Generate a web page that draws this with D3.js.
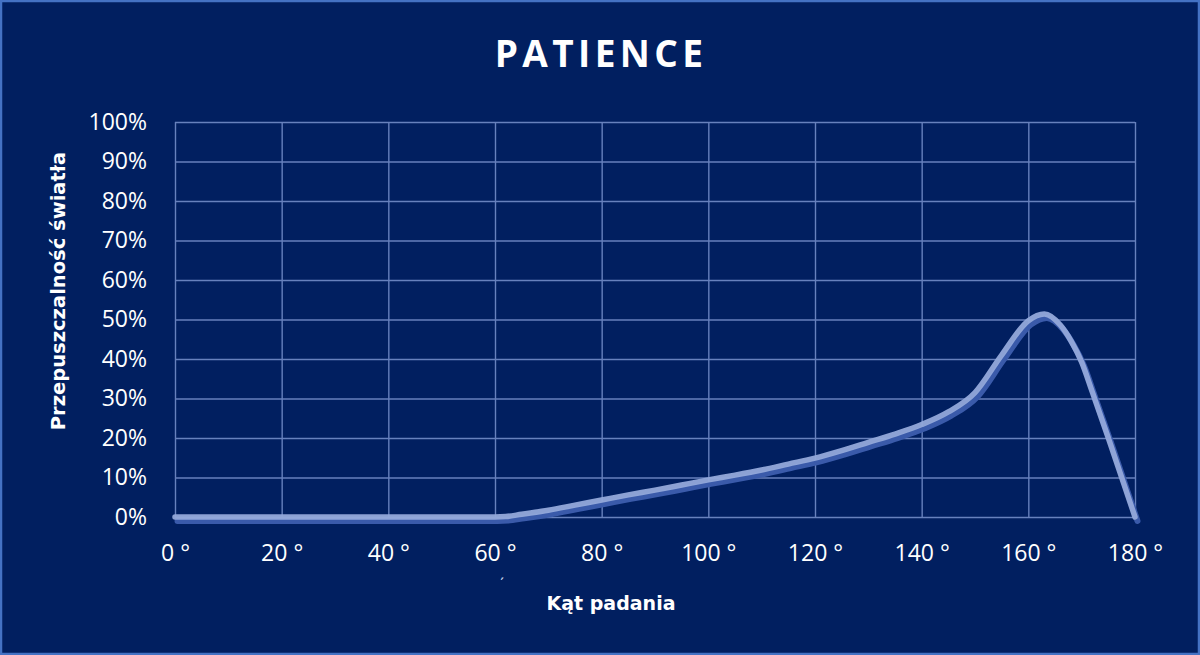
<!DOCTYPE html>
<html>
<head>
<meta charset="utf-8">
<script src="https://cdn.jsdelivr.net/npm/d3@7/dist/d3.min.js"></script>
<style>
  html, body { margin: 0; padding: 0; background: #011f60; }
  svg { display: block; }
</style>
</head>
<body>
<svg id="chart" width="1200" height="655"></svg>
<script>
// ---- data ----
const title = "PATIENCE";
const xTitle = "Kąt padania";
const yTitle = "Przepuszczalność światła";
const angles = [0, 10, 20, 30, 40, 50, 60, 62, 65, 70, 75, 80, 85, 90, 95, 100, 105, 110, 115, 120, 125, 130, 135, 140, 145, 150, 155, 160, 163, 166, 168, 170, 172, 175, 178, 180];
const transmission = [0, 0, 0, 0, 0, 0, 0, 0.1, 0.7, 1.7, 3.0, 4.3, 5.6, 6.8, 8.1, 9.4, 10.6, 11.9, 13.4, 14.9, 16.8, 18.9, 21.0, 23.4, 26.6, 31.5, 41.0, 49.7, 51.4, 48.6, 44.6, 39.2, 31.6, 20.0, 8.0, 0];
const xTicks = [0, 20, 40, 60, 80, 100, 120, 140, 160, 180];
const yTicks = [0, 10, 20, 30, 40, 50, 60, 70, 80, 90, 100];

const svg = d3.select("#chart");
const W = 1200, H = 655;
const plotLeft = 175, plotRight = 1135, plotTop = 122, plotBottom = 517;

svg.append("rect").attr("x", 1).attr("y", 1).attr("width", W - 2).attr("height", H - 2)
  .attr("fill", "#011f60").attr("stroke", "#4472c4").attr("stroke-width", 2.5);

const x = d3.scaleLinear().domain([0, 180]).range([plotLeft, plotRight]);
const y = d3.scaleLinear().domain([0, 100]).range([plotBottom, plotTop]);

// grid
const gridColor = "#6781bd";
const xGrid = svg.append("g").attr("transform", `translate(0,${plotBottom})`)
  .call(d3.axisBottom(x).tickValues(xTicks).tickSize(-(plotBottom - plotTop)).tickFormat(""));
xGrid.select(".domain").remove();
xGrid.selectAll("line").attr("stroke", gridColor).attr("stroke-width", 1.4);

const yGrid = svg.append("g").attr("transform", `translate(${plotLeft},0)`)
  .call(d3.axisLeft(y).tickValues(yTicks).tickSize(-(plotRight - plotLeft)).tickFormat(""));
yGrid.select(".domain").remove();
yGrid.selectAll("line").attr("stroke", gridColor).attr("stroke-width", 1.4);

// axes labels
const xAxis = svg.append("g").attr("transform", `translate(0,${plotBottom})`)
  .call(d3.axisBottom(x).tickValues(xTicks).tickSize(0).tickPadding(28).tickFormat(d => d + " °"));
xAxis.select(".domain").remove();
xAxis.selectAll("text").attr("fill", "#ffffff").attr("font-family", "'Open Sans', sans-serif").attr("font-size", 23);

const yAxis = svg.append("g").attr("transform", `translate(${plotLeft},0)`)
  .call(d3.axisLeft(y).tickValues(yTicks).tickSize(0).tickPadding(28).tickFormat(d => d + "%"));
yAxis.select(".domain").remove();
yAxis.selectAll("text").attr("fill", "#ffffff").attr("font-family", "'Open Sans', sans-serif").attr("font-size", 23);

// line
const data = angles.map((a, i) => ({ a, v: transmission[i] }));
const line = d3.line().x(d => x(d.a)).y(d => y(d.v)).curve(d3.curveMonotoneX);

svg.append("path").datum(data).attr("d", line)
  .attr("fill", "none").attr("stroke", "#3a5aaa").attr("stroke-width", 6)
  .attr("stroke-linejoin", "round").attr("stroke-linecap", "round")
  .attr("transform", "translate(2.5,4)");
svg.append("path").datum(data).attr("d", line)
  .attr("fill", "none").attr("stroke", "#94a9da").attr("stroke-width", 5.5)
  .attr("stroke-opacity", 0.95)
  .attr("stroke-linejoin", "round").attr("stroke-linecap", "round");

// titles
svg.append("text").attr("x", 601).attr("y", 67).attr("text-anchor", "middle")
  .attr("fill", "#ffffff").attr("font-family", "'Open Sans', sans-serif").attr("font-weight", 700)
  .attr("font-size", 37).attr("letter-spacing", 4.4).text(title);

svg.append("text").attr("x", 611).attr("y", 610).attr("text-anchor", "middle")
  .attr("fill", "#ffffff").attr("font-family", "'DejaVu Sans', sans-serif").attr("font-weight", 700)
  .attr("font-size", 19).text(xTitle);

svg.append("text").attr("transform", "translate(65,291) rotate(-90)").attr("text-anchor", "middle")
  .attr("fill", "#ffffff").attr("font-family", "'DejaVu Sans', sans-serif").attr("font-weight", 700)
  .attr("font-size", 19.5).text(yTitle);

svg.append("text").attr("x", 502).attr("y", 590).attr("text-anchor", "middle")
  .attr("fill", "#cfd8ee").attr("font-family", "'Open Sans', sans-serif").attr("font-size", 16).text("ˊ");
</script>
</body>
</html>
